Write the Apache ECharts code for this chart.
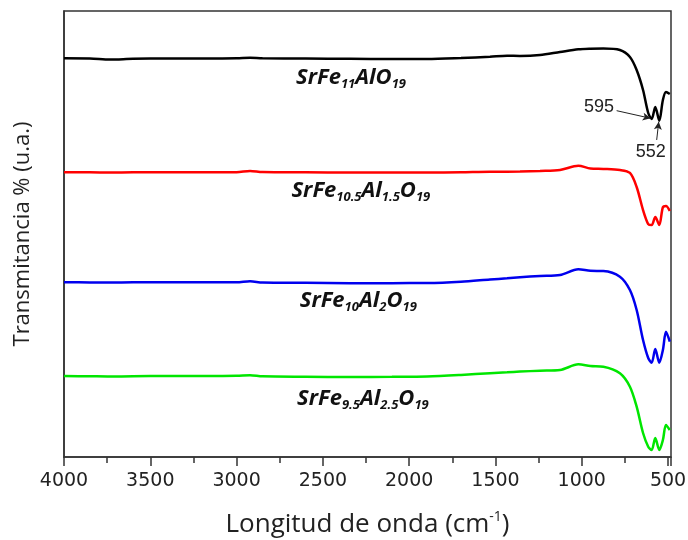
<!DOCTYPE html>
<html>
<head>
<meta charset="utf-8">
<script src="https://cdn.jsdelivr.net/npm/echarts@6/dist/echarts.min.js"></script>
<style>html,body{margin:0;padding:0;background:#fff;}#c{width:688px;height:540px;}</style>
</head>
<body>
<div id="c"></div>
<script>
// Wavenumbers (cm^-1)
var wavenumbers = [4000, 3850, 3733, 3600, 3400, 3200, 3000, 2922, 2850, 2600, 2343, 2100, 1897, 1700, 1532, 1433, 1358, 1242, 1126, 1020, 950, 875, 779, 721, 682, 645, 615, 595, 574, 551, 530, 512, 490];
// Transmittance (offset, arbitrary units)
var tBlack = [89.39, 89.35, 89.10, 89.28, 89.35, 89.35, 89.39, 89.52, 89.40, 89.33, 89.28, 89.24, 89.24, 89.46, 89.75, 89.98, 89.91, 90.13, 90.81, 91.41, 91.55, 91.59, 91.26, 89.69, 86.77, 82.29, 77.13, 75.78, 78.48, 75.40, 80.04, 81.84, 81.39];
var tRed = [63.83, 63.83, 63.79, 63.83, 63.83, 63.83, 63.83, 64.15, 63.88, 63.83, 63.79, 63.79, 63.79, 63.85, 63.97, 63.97, 64.00, 64.13, 64.35, 65.31, 64.69, 64.60, 64.35, 63.68, 60.54, 55.38, 52.24, 52.00, 53.81, 52.02, 56.00, 56.28, 55.16];
var tBlue = [39.17, 39.15, 39.13, 39.17, 39.17, 39.17, 39.17, 39.40, 39.13, 39.05, 38.95, 38.98, 39.01, 39.30, 39.80, 40.07, 40.30, 40.58, 40.81, 42.09, 41.75, 41.70, 40.43, 37.44, 32.96, 26.23, 22.20, 21.14, 24.22, 21.14, 23.99, 28.09, 25.85];
var tGreen = [18.16, 18.10, 18.05, 18.10, 18.16, 18.16, 18.20, 18.35, 18.10, 18.00, 17.94, 17.98, 18.05, 18.40, 18.80, 18.99, 19.15, 19.35, 19.51, 20.78, 20.40, 20.25, 18.77, 15.76, 11.28, 5.38, 2.31, 1.57, 4.26, 1.57, 3.81, 7.17, 6.05];
var seriesNames = ['SrFe11AlO19', 'SrFe10.5Al1.5O19', 'SrFe10Al2O19', 'SrFe9.5Al2.5O19'];
var seriesLabels = [
  '{m|SrFe}{s|11}{m|AlO}{s|19}',
  '{m|SrFe}{s|10.5}{m|Al}{s|1.5}{m|O}{s|19}',
  '{m|SrFe}{s|10}{m|Al}{s|2}{m|O}{s|19}',
  '{m|SrFe}{s|9.5}{m|Al}{s|2.5}{m|O}{s|19}'
];
var labelAnchors = [[2337, 84.98], [2280, 59.75], [2295, 34.98], [2268, 13.0]];
var colors = ['#000000', '#ff0000', '#0000ee', '#00e600'];
var peakLabels = ['595', '552'];
var peakTextPos = [[900, 78.48], [600, 68.45]];
var peakArrows = [[[798, 77.65], [601, 75.94]], [[566, 71.08], [554, 75.18]]];

var allValues = [tBlack, tRed, tBlue, tGreen];

function pairs(vals) {
  return wavenumbers.map(function (w, i) { return [w, vals[i]]; });
}

var richStyle = {
  m: { fontFamily: 'Open Sans', fontSize: 22, fontWeight: 'bold', fontStyle: 'italic', color: '#111', lineHeight: 26 },
  s: { fontFamily: 'Open Sans', fontSize: 13, fontWeight: 'bold', fontStyle: 'italic', color: '#111', lineHeight: 26, verticalAlign: 'bottom' }
};

var series = allValues.map(function (vals, k) {
  var s = {
    name: seriesNames[k],
    type: 'line',
    data: pairs(vals),
    showSymbol: false,
    smooth: 0.3,
    clip: false,
    lineStyle: { color: colors[k], width: 2.5 },
    itemStyle: { color: colors[k] },
    animation: false,
    markPoint: {
      symbol: 'rect',
      symbolSize: 1,
      itemStyle: { color: 'rgba(0,0,0,0)' },
      label: { show: true, position: 'inside', formatter: seriesLabels[k], rich: richStyle },
      data: [{ coord: labelAnchors[k] }]
    }
  };
  if (k === 0) {
    s.markPoint.data = [
      { coord: labelAnchors[0] },
      { coord: peakTextPos[0], label: { formatter: peakLabels[0], fontFamily: 'Liberation Sans', fontSize: 18, color: '#222', rich: {} } },
      { coord: peakTextPos[1], label: { formatter: peakLabels[1], fontFamily: 'Liberation Sans', fontSize: 18, color: '#222', rich: {} } }
    ];
    s.markLine = {
      silent: true,
      symbol: ['none', 'arrow'],
      symbolSize: [6, 8],
      label: { show: false },
      lineStyle: { color: '#222', width: 1, type: 'solid' },
      data: peakArrows.map(function (a) { return [{ coord: a[0] }, { coord: a[1] }]; })
    };
  }
  return s;
});

var chart = echarts.init(document.getElementById('c'));
chart.setOption({
  animation: false,
  backgroundColor: '#ffffff',
  grid: { left: 64, right: 17, top: 11, bottom: 83, containLabel: false, outerBoundsMode: 'none', show: true, borderColor: '#333', borderWidth: 1.5, backgroundColor: 'transparent' },
  xAxis: {
    type: 'value',
    inverse: true,
    min: 483,
    max: 4000,
    minInterval: 500,
    maxInterval: 500,
    axisLine: { show: true, lineStyle: { color: '#333', width: 1.5 } },
    axisTick: { show: true, inside: false, length: 9, lineStyle: { color: '#333', width: 1.5 } },
    minorTick: { show: true, splitNumber: 2, length: 6, lineStyle: { color: '#333', width: 1.5 } },
    splitLine: { show: false },
    axisLabel: {
      showMinLabel: false, showMaxLabel: true, hideOverlap: false, margin: 15,
      fontFamily: 'DejaVu Sans', fontSize: 19, color: '#222',
      formatter: function (v) { return String(Math.round(v)); }
    },
    name: '{a|Longitud de onda (cm}{b|-1}{a|)}',
    nameLocation: 'middle',
    nameGap: 53,
    nameTextStyle: {
      rich: {
        a: { fontFamily: 'Open Sans', fontSize: 26, color: '#222', lineHeight: 30 },
        b: { fontFamily: 'Open Sans', fontSize: 14, color: '#222', lineHeight: 30, verticalAlign: 'top' }
      }
    }
  },
  yAxis: {
    type: 'value',
    min: 0,
    max: 100,
    axisLine: { show: true, lineStyle: { color: '#333', width: 1.5 } },
    axisTick: { show: false },
    axisLabel: { show: false },
    splitLine: { show: false },
    name: 'Transmitancia % (u.a.)',
    nameLocation: 'middle',
    nameGap: 30,
    nameTextStyle: { fontFamily: 'Open Sans', fontSize: 22, color: '#222' }
  },
  series: series
});
</script>
</body>
</html>
